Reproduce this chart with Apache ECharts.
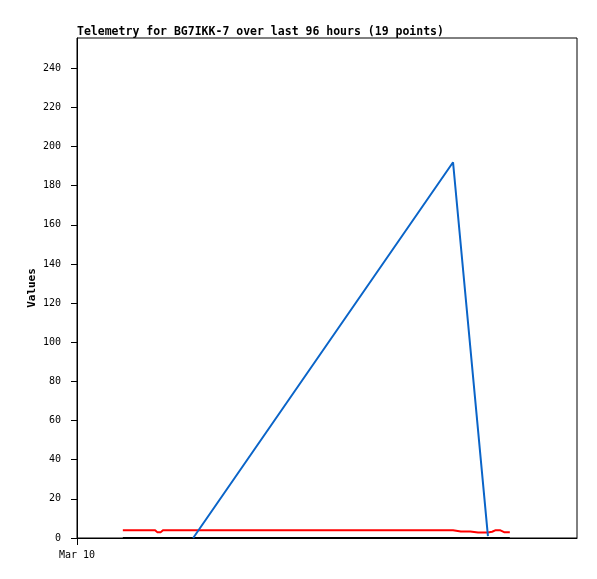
<!DOCTYPE html>
<html>
<head>
<meta charset="utf-8">
<script src="https://cdn.jsdelivr.net/npm/echarts@6/dist/echarts.min.js"></script>
<style>html,body{margin:0;padding:0;background:#fff;}#c{width:597px;height:579px;}</style>
</head>
<body>
<div id="c"></div>
<script>
// hours since Mar 10 00:00
const times = [8.8, 12.1, 15.0, 15.4, 15.7, 16.1, 16.5, 22.3, 72.2, 73.7, 75.5, 77.0, 78.9, 79.7, 80.4, 81.2, 82.0, 82.6, 83.1];
const seriesBlack = [0, 0, 0, 0, 0, 0, 0, 0, 0, 0, 0, 0, 0, 0, 0, 0, 0, 0, 0];
const seriesRed   = [4, 4, 4, 3, 3.5, 3, 4, 4, 4, 3.3, 3.3, 2.8, 2.8, 3.2, 4, 4, 3, 3, 3];
const seriesBlue  = [null, null, null, null, null, null, null, 0, 192, null, null, null, 1, null, null, null, null, null, null];
const xTickLabels = ['Mar 10'];
const yTicks = [0, 20, 40, 60, 80, 100, 120, 140, 160, 180, 200, 220, 240];

const pairs = vals => times.map((t, i) => [t, vals[i]]);
const font = '"DejaVu Sans Mono", monospace';

const chart = echarts.init(document.getElementById('c'));
chart.setOption({
  animation: false,
  title: {
    text: 'Telemetry for BG7IKK-7 over last 96 hours (19 points)',
    left: 72, top: 21,
    textStyle: { fontFamily: font, fontSize: 11.5, fontWeight: 'bold', color: '#000' }
  },
  grid: { left: 77, top: 38, width: 500, height: 500, show: true, borderColor: '#000', borderWidth: 1, backgroundColor: 'transparent' },
  xAxis: {
    type: 'value', min: 0, max: 96,
    axisLine: { lineStyle: { color: '#000', width: 1 } },
    axisTick: { show: true, length: 7, customValues: [0], lineStyle: { color: '#000' } },
    axisLabel: { customValues: [0], formatter: () => xTickLabels[0], fontFamily: font, fontSize: 10, color: '#000', margin: 12 },
    splitLine: { show: false }
  },
  yAxis: {
    type: 'value', min: 0, max: 255.5, interval: 20,
    name: 'Values', nameLocation: 'middle', nameGap: 39, nameMoveOverlap: false,
    nameTextStyle: { fontFamily: font, fontSize: 11, fontWeight: 'bold', color: '#000' },
    axisLine: { show: true, lineStyle: { color: '#000', width: 1 } },
    axisTick: { show: true, length: 6, customValues: yTicks, lineStyle: { color: '#000' } },
    axisLabel: { customValues: yTicks, fontFamily: font, fontSize: 10, color: '#000', margin: 16 },
    splitLine: { show: false }
  },
  series: [
    { type: 'line', data: pairs(seriesBlack), showSymbol: false, lineStyle: { color: '#000', width: 2 }, z: 3 },
    { type: 'line', data: pairs(seriesRed), showSymbol: false, lineStyle: { color: '#ff0000', width: 2 }, z: 4 },
    { type: 'line', data: pairs(seriesBlue), showSymbol: false, connectNulls: true, lineStyle: { color: '#0a64c8', width: 2 }, z: 5 }
  ]
});
</script>
</body>
</html>
